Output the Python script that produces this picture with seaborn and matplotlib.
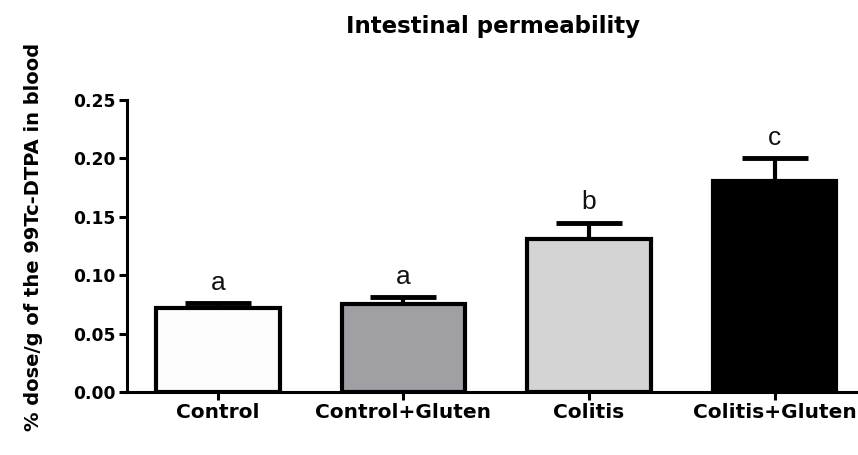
import matplotlib
matplotlib.use("Agg")
import matplotlib.pyplot as plt
import seaborn as sns
import pandas as pd

# Data
groups = ["Control", "Control+Gluten", "Colitis", "Colitis+Gluten"]
means = [0.072, 0.075, 0.131, 0.181]
sem = [0.004, 0.006, 0.014, 0.019]
letters = ["a", "a", "b", "c"]
colors = ["#fdfdfd", "#a0a0a4", "#d4d4d4", "#000000"]

df = pd.DataFrame({"group": groups, "value": means})

sns.set_style("ticks")
plt.rcParams["font.family"] = ["DejaVu Sans"]
plt.rcParams["text.color"] = "black"
plt.rcParams["axes.labelcolor"] = "black"
plt.rcParams["xtick.color"] = "black"
plt.rcParams["ytick.color"] = "black"

fig = plt.figure(figsize=(8.58, 4.55), dpi=100)
ax = fig.add_axes([127 / 858, 1 - 392 / 455, 731 / 858, 292 / 455])

sns.barplot(data=df, x="group", y="value", hue="group", palette=colors,
            width=0.665, edgecolor="black", linewidth=3, legend=False,
            errorbar=None, ax=ax, zorder=3)

# one-sided error bars (mean + SEM)
x = range(len(groups))
ax.errorbar(x, means, yerr=[[0] * len(sem), sem], fmt="none", ecolor="black",
            elinewidth=3, capsize=24, capthick=3.5, zorder=2)

# significance letters
for i, (m, s, l) in enumerate(zip(means, sem, letters)):
    ax.text(i, m + s + 0.007, l, ha="center", va="bottom",
            fontsize=19, family="Liberation Sans", color="#111111")

ax.set_ylim(0, 0.25)
ax.set_xlim(-0.49, 3.45)
ax.set_yticks([0, 0.05, 0.10, 0.15, 0.20, 0.25])
ax.set_yticklabels([f"{v:.2f}" for v in [0, 0.05, 0.10, 0.15, 0.20, 0.25]],
                   fontsize=12.3, fontweight="bold")
ax.set_xticks(list(x))
ax.set_xticklabels(groups, fontsize=14.5, fontweight="bold")
ax.set_xlabel("")
ax.set_ylabel("% dose/g of the 99Tc-DTPA in blood", fontsize=14, fontweight="bold")
ax.yaxis.set_label_coords(-0.115, 0.53)

ax.tick_params(axis="both", width=2.2, length=6, color="black", pad=2)
sns.despine(ax=ax)
for sp in ["left", "bottom"]:
    ax.spines[sp].set_linewidth(2.2)
    ax.spines[sp].set_color("black")

fig.text((127 + 858) / 2 / 858, 1 - 26 / 455, "Intestinal permeability",
         ha="center", va="center", fontsize=16.5, fontweight="bold")

fig.savefig("out.png", dpi=100)
